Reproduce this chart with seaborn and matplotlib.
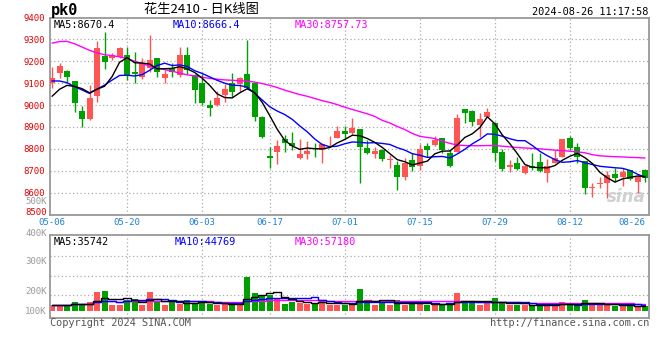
import numpy as np
import pandas as pd
import matplotlib
matplotlib.use("Agg")
import matplotlib.pyplot as plt
import seaborn as sns

# ---------------- data ----------------
tick_labels = ["05-06", "05-20", "06-03", "06-17", "07-01", "07-15", "07-29", "08-12", "08-26"]

opens = [9099, 9148, 9155, 9110, 8973, 8935, 9043, 9224, 9216, 9221,
         9228, 9152, 9130, 9168, 9213, 9122, 9170, 9137, 9228, 9137,
         9100, 9000, 9000, 9046, 9099, 9096, 9140, 9099, 8947, 8767,
         8787, 8845, 8828, 8760, 8775, 8805, 8795, 8843, 8851, 8881,
         8871, 8890, 8805, 8778, 8795, 8749, 8726, 8670, 8749, 8723,
         8813, 8817, 8848, 8779, 8787, 8980, 8973, 8909, 8947, 8916,
         8787, 8718, 8737, 8691, 8722, 8741, 8691, 8737, 8764, 8848,
         8807, 8744, 8623, 8639, 8642, 8684, 8673, 8703, 8650, 8703]
highs = [9175, 9190, 9158, 9112, 8997, 9091, 9292, 9335, 9240, 9265,
         9266, 9244, 9213, 9320, 9215, 9160, 9193, 9263, 9263, 9140,
         9140, 9023, 9064, 9096, 9145, 9128, 9297, 9100, 8950, 8810,
         8840, 8863, 8878, 8845, 8836, 8825, 8825, 8860, 8904, 8904,
         8939, 8892, 8840, 8810, 8797, 8772, 8746, 8757, 8779, 8820,
         8828, 8858, 8850, 8795, 8959, 8982, 8977, 8962, 8985, 8924,
         8800, 8749, 8764, 8724, 8779, 8782, 8752, 8795, 8847, 8858,
         8825, 8746, 8642, 8670, 8699, 8711, 8711, 8705, 8680, 8708]
lows = [9076, 9122, 9107, 8970, 8901, 8933, 9012, 9167, 9205, 9215,
        9114, 9099, 9119, 9149, 9129, 9099, 9129, 9129, 9140, 9008,
        9000, 8950, 8995, 9012, 9038, 9061, 9075, 8927, 8848, 8714,
        8729, 8787, 8795, 8753, 8753, 8764, 8734, 8810, 8848, 8848,
        8862, 8645, 8775, 8760, 8746, 8714, 8612, 8658, 8700, 8703,
        8764, 8815, 8779, 8718, 8785, 8919, 8904, 8855, 8945, 8746,
        8700, 8693, 8703, 8683, 8703, 8696, 8650, 8735, 8762, 8795,
        8734, 8592, 8582, 8620, 8574, 8650, 8632, 8658, 8600, 8650]
closes = [9125, 9178, 9129, 9008, 8935, 9030, 9259, 9198, 9228, 9262,
          9137, 9142, 9190, 9206, 9152, 9140, 9149, 9228, 9158, 9069,
          9010, 8985, 9034, 9073, 9061, 9125, 9079, 8944, 8852, 8760,
          8813, 8825, 8814, 8776, 8790, 8798, 8820, 8846, 8881, 8869,
          8894, 8810, 8782, 8792, 8754, 8752, 8673, 8734, 8718, 8799,
          8795, 8840, 8795, 8722, 8939, 8965, 8924, 8936, 8967, 8779,
          8708, 8726, 8708, 8722, 8714, 8700, 8722, 8760, 8845, 8805,
          8764, 8623, 8627, 8642, 8680, 8668, 8696, 8662, 8673, 8668]
# MA values read from the chart where the visible closes are not enough
ma5_head = [9040, 9072, 9090, 9085]
ma10_head = [9110, 9110, 9102, 9084, 9069, 9053, 9073, 9091, 9114]
ma30 = [9283, 9290, 9291, 9280, 9265, 9250, 9238, 9230, 9226, 9220,
        9213, 9200, 9190, 9178, 9170, 9162, 9155, 9146, 9138, 9133,
        9127, 9122, 9118, 9115, 9113, 9111, 9109, 9105, 9098, 9090,
        9080, 9068, 9058, 9048, 9040, 9030, 9020, 9012, 9002, 8990,
        8980, 8970, 8960, 8948, 8930, 8918, 8902, 8888, 8870, 8857,
        8852, 8847, 8835, 8825, 8817, 8815, 8814, 8814, 8815, 8815,
        8812, 8809, 8806, 8804, 8802, 8800, 8797, 8794, 8792, 8789,
        8786, 8782, 8773, 8768, 8766, 8764, 8763, 8761, 8760, 8758]
volume = [41000, 37000, 37000, 58000, 41000, 58000, 124000, 130000, 41000, 41000,
          74000, 80000, 41000, 124000, 58000, 37000, 58000, 48000, 74000, 52000,
          58000, 48000, 41000, 48000, 41000, 41000, 221000, 117000, 106000, 102000,
          80000, 48000, 58000, 52000, 48000, 52000, 69000, 41000, 41000, 41000,
          41000, 145000, 58000, 41000, 58000, 41000, 74000, 41000, 48000, 52000,
          41000, 48000, 41000, 52000, 117000, 58000, 58000, 41000, 52000, 84000,
          52000, 37000, 37000, 41000, 37000, 41000, 41000, 41000, 58000, 48000,
          41000, 74000, 41000, 41000, 41000, 32000, 41000, 32000, 32000, 32000]
price_labels = [9400, 9300, 9200, 9100, 9000, 8900, 8800, 8700, 8600, 8500]
vol_labels = ["500K", "400K", "300K", "200K", "100K"]

# ---------------- frame ----------------
dates = pd.bdate_range("2024-05-06", "2024-08-26").drop(pd.Timestamp("2024-06-10"))
df = pd.DataFrame({"date": dates.strftime("%m-%d"), "open": opens, "high": highs,
                   "low": lows, "close": closes, "vol": volume, "ma30": ma30})
df["x"] = np.arange(len(df))
ma5 = df["close"].rolling(5).mean()
ma5.iloc[:len(ma5_head)] = ma5_head
ma10 = df["close"].rolling(10).mean()
ma10.iloc[:len(ma10_head)] = ma10_head
df["ma5"] = ma5
df["ma10"] = ma10
df["vma5"] = df["vol"].rolling(5, min_periods=1).mean()
df["vma10"] = df["vol"].rolling(10, min_periods=1).mean()
df["vma30"] = df["vol"].rolling(30, min_periods=1).mean()

sns.set_theme(style="white")
plt.rcParams["font.family"] = ["DejaVu Sans Mono", "Noto Sans CJK SC"]

RED, GREEN = "#FF5555", "#00A000"
up = df["close"] >= df["open"]
cols = np.where(up, RED, GREEN)
FS = 6.5

W, H = 660, 360
fig = plt.figure(figsize=(6.6, 3.6), dpi=100)
fig.patch.set_facecolor("white")


def rect(l, t, r, b):
    return [l / W, 1 - b / H, (r - l) / W, (b - t) / H]


ax = fig.add_axes(rect(50, 17.5, 649, 214.5))
axv = fig.add_axes(rect(50, 235, 649, 318))

xlim = (-0.27, 79.53)
tick_pos = [int(df.index[df["date"] == t][0]) for t in tick_labels]

gridkw = dict(color="#aaaaaa", linestyle=(0, (1, 2)), linewidth=0.9)
for a in (ax, axv):
    a.set_facecolor("white")
    for s in a.spines.values():
        s.set_color("#999999")
        s.set_linewidth(1.3)
    a.set_xlim(*xlim)
    for p in tick_pos[1:-1]:
        a.axvline(p, zorder=0, **gridkw)
    a.tick_params(length=0)

# price panel
ax.set_ylim(8500, 9400)
for v in price_labels[1:-1]:
    ax.axhline(v, zorder=0, **gridkw)
ax.set_yticks(price_labels[:-1])
ax.set_yticklabels([str(v) for v in price_labels[:-1]], color="#E00000", fontsize=FS)
ax.tick_params(axis="y", pad=3.5)
# lowest price label sits just above the frame edge, as in the original
fig.text(46.5 / W, 1 - 212.6 / H, str(price_labels[-1]), ha="right", va="center",
         fontsize=FS, color="#E00000")
ax.set_xticks(tick_pos)
ax.set_xticklabels(tick_labels, color="#1E7FD6", fontsize=FS)
ax.tick_params(axis="x", pad=2.6)
ax.get_xticklabels()[0].set_x(-0.4)
ax.get_xticklabels()[-1].set_ha("right")
ax.get_xticklabels()[-1].set_x(79.5)

body = np.maximum((df["close"] - df["open"]).abs(), 3)
bottom = np.minimum(df["close"], df["open"])
ax.vlines(df["x"], df["low"], df["high"], colors=cols, linewidth=1, zorder=2)
ax.bar(df["x"], body, bottom=bottom, width=0.8, color=cols, linewidth=0, zorder=3)

sns.lineplot(data=df, x="x", y="ma30", ax=ax, color="#FF00FF", linewidth=1, zorder=4)
sns.lineplot(data=df, x="x", y="ma10", ax=ax, color="#0000FF", linewidth=1, zorder=5)
sns.lineplot(data=df, x="x", y="ma5", ax=ax, color="black", linewidth=1, zorder=6)
ax.set_xlabel("")
ax.set_ylabel("")

ax.text(4 / 599, 0.985, "MA5:8670.4", transform=ax.transAxes, va="top", ha="left",
        fontsize=7.4, color="black")
ax.text(123 / 599, 0.985, "MA10:8666.4", transform=ax.transAxes, va="top", ha="left",
        fontsize=7.4, color="#0000FF")
ax.text(245 / 599, 0.985, "MA30:8757.73", transform=ax.transAxes, va="top", ha="left",
        fontsize=7.4, color="#FF00FF")
ax.text(0.995, 0.09, "sina", transform=ax.transAxes, ha="right", va="center",
        fontsize=12, color="#d0d0d0", style="italic", fontweight="bold",
        family=["DejaVu Sans"], zorder=1)

# volume panel
k = 6500
axv.set_ylim(-7 * k, 76 * k)
for v in (16 * k, 35 * k, 55 * k):
    axv.axhline(v, zorder=0, **gridkw)
axv.set_yticks([])
axv.set_xticks([])
axv.bar(df["x"], df["vol"], width=0.8, color=cols, linewidth=0, zorder=2)
axv.plot(df["x"], df["vma30"], color="#FF00FF", linewidth=1, drawstyle="steps-mid", zorder=3)
axv.plot(df["x"], df["vma10"], color="#0000FF", linewidth=1, drawstyle="steps-mid", zorder=4)
axv.plot(df["x"], df["vma5"], color="black", linewidth=1, drawstyle="steps-mid", zorder=5)
axv.text(4 / 599, 0.98, "MA5:35742", transform=axv.transAxes, va="top", ha="left",
         fontsize=7.4, color="black")
axv.text(125 / 599, 0.98, "MA10:44769", transform=axv.transAxes, va="top", ha="left",
         fontsize=7.4, color="#0000FF")
axv.text(245 / 599, 0.98, "MA30:57180", transform=axv.transAxes, va="top", ha="left",
         fontsize=7.4, color="#FF00FF")

for lab, y in zip(vol_labels, (202, 234, 261, 291, 311)):
    fig.text(46.5 / W, 1 - y / H, lab, ha="right", va="center", fontsize=FS, color="#999999")

# header / footer
fig.text(51 / W, 1 - 11 / H, "pk0", ha="left", va="center", fontsize=11,
         fontweight="bold", color="black")
fig.text(201 / W, 1 - 10 / H, "花生2410 - 日K线图", ha="center", va="center",
         fontsize=9.5, color="black", family=["Noto Sans CJK SC", "DejaVu Sans"])
fig.text(648 / W, 1 - 12 / H, "2024-08-26 11:17:58", ha="right", va="center",
         fontsize=7.4, color="black")
fig.text(50 / W, 1 - 323 / H, "Copyright 2024 SINA.COM", ha="left", va="center",
         fontsize=7.4, color="#555555")
fig.text(649 / W, 1 - 323 / H, "http://finance.sina.com.cn", ha="right", va="center",
         fontsize=7.4, color="#555555")

fig.savefig("out.png", dpi=100, facecolor="white")
